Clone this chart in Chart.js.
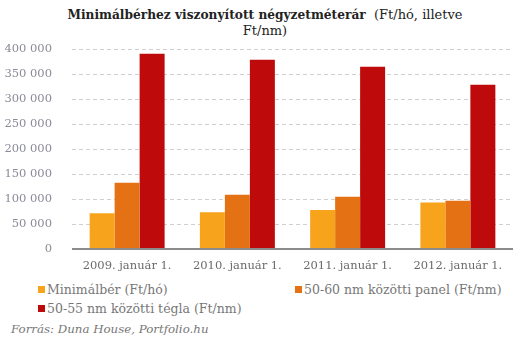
<!DOCTYPE html>
<html>
<head>
<meta charset="utf-8">
<script src="https://cdn.jsdelivr.net/npm/chart.js@4"></script>
<style>
  body { margin: 0; background: #fff; }
  #wrap { position: relative; width: 531px; height: 342px; font-family: "DejaVu Serif", "Liberation Serif", serif; color: #666; }
  #title { position: absolute; top: 7px; left: 40px; width: 450px; text-align: center; font-size: 13px; line-height: 16px; color: #222; }
  #title b { font-weight: bold; font-size: 12.2px; }
  #chartBox { position: absolute; left: 0; top: 0; width: 531px; height: 280px; }
  #legend { position: absolute; top: 282px; left: 38px; width: 480px; font-size: 12.5px; color: #777; }
  .item { position: absolute; white-space: nowrap; }
  .item span.box { display: inline-block; width: 7px; height: 7px; margin-right: 2px; vertical-align: 1px; }
  #source { position: absolute; top: 322px; left: 11px; font-size: 11.8px; font-style: italic; color: #777; }
</style>
</head>
<body>
<div id="wrap">
  <div id="title"><b>Minimálbérhez viszonyított négyzetméterár</b>&nbsp; (Ft/hó, illetve<br>Ft/nm)</div>
  <div id="chartBox"><canvas id="myBarChart"></canvas></div>
  <div id="legend"></div>
  <div id="source">Forrás: Duna House, Portfolio.hu</div>
</div>
<script>
// Data
const categories = ['2009. január 1.', '2010. január 1.', '2011. január 1.', '2012. január 1.'];
const minimalber = [71500, 73500, 78000, 93000];
const panel = [132500, 108500, 104500, 96500];
const tegla = [390500, 378500, 364500, 328500];
const seriesNames = ['Minimálbér (Ft/hó)', '50-60 nm közötti panel (Ft/nm)', '50-55 nm közötti tégla (Ft/nm)'];
const seriesColors = ['#F7A41C', '#E47214', '#BE0A0A'];

// dashed grid + solid base line, drawn from the y scale's own ticks
const gridPlugin = {
    id: 'dashedGrid',
    beforeDatasetsDraw(chart) {
        const { ctx, chartArea, scales } = chart;
        const y = scales.y;
        ctx.save();
        y.ticks.forEach(t => {
            if (t.value === 0) return;
            const py = Math.round(y.getPixelForValue(t.value)) + 0.5;
            ctx.strokeStyle = '#d0d0d0';
            ctx.lineWidth = 1;
            ctx.setLineDash([4, 3]);
            ctx.beginPath();
            ctx.moveTo(chartArea.left, py);
            ctx.lineTo(chartArea.right, py);
            ctx.stroke();
        });
        ctx.restore();
    },
    afterDatasetsDraw(chart) {
        const { ctx, chartArea, scales } = chart;
        const py = Math.round(scales.y.getPixelForValue(0));
        ctx.save();
        ctx.strokeStyle = '#8c8c8c';
        ctx.lineWidth = 2;
        ctx.beginPath();
        ctx.moveTo(chartArea.left, py);
        ctx.lineTo(chartArea.right, py);
        ctx.stroke();
        ctx.restore();
    }
};

const ctx = document.getElementById('myBarChart').getContext('2d');
const myBarChart = new Chart(ctx, {
    type: 'bar',
    data: {
        labels: categories,
        datasets: [minimalber, panel, tegla].map((d, i) => ({
            label: seriesNames[i],
            data: d,
            backgroundColor: seriesColors[i],
            borderWidth: 0
        }))
    },
    options: {
        responsive: true,
        maintainAspectRatio: false,
        animation: false,
        layout: { padding: { top: 49, right: 18, left: 0, bottom: 0 } },
        datasets: { bar: { categoryPercentage: 0.68, barPercentage: 1.0 } },
        plugins: {
            legend: { display: false },
            tooltip: { enabled: false }
        },
        scales: {
            x: {
                grid: { display: false },
                border: { display: false },
                ticks: {
                    color: '#6a6a6a',
                    padding: 2,
                    font: { family: 'DejaVu Serif', size: 11.5 }
                },
                afterFit: function(scale) { scale.height = 31; }
            },
            y: {
                min: 0,
                max: 400000,
                ticks: {
                    stepSize: 50000,
                    color: '#8a8a98',
                    padding: 12,
                    font: { family: 'DejaVu Serif', size: 11.5 },
                    callback: function(v) {
                        return v === 0 ? '0' : String(v).replace(/\B(?=(\d{3})+(?!\d))/g, ' ');
                    }
                },
                grid: { display: false },
                border: { display: false },
                afterFit: function(scale) { scale.width = 72; }
            }
        }
    },
    plugins: [gridPlugin]
});

// legend in two columns like the original
const legend = document.getElementById('legend');
const positions = [[0, 0], [257, 0], [0, 19]];
seriesNames.forEach((name, i) => {
    const el = document.createElement('div');
    el.className = 'item';
    el.style.left = positions[i][0] + 'px';
    el.style.top = positions[i][1] + 'px';
    el.innerHTML = '<span class="box" style="background:' + seriesColors[i] + '"></span>' + name;
    legend.appendChild(el);
});
</script>
</body>
</html>
